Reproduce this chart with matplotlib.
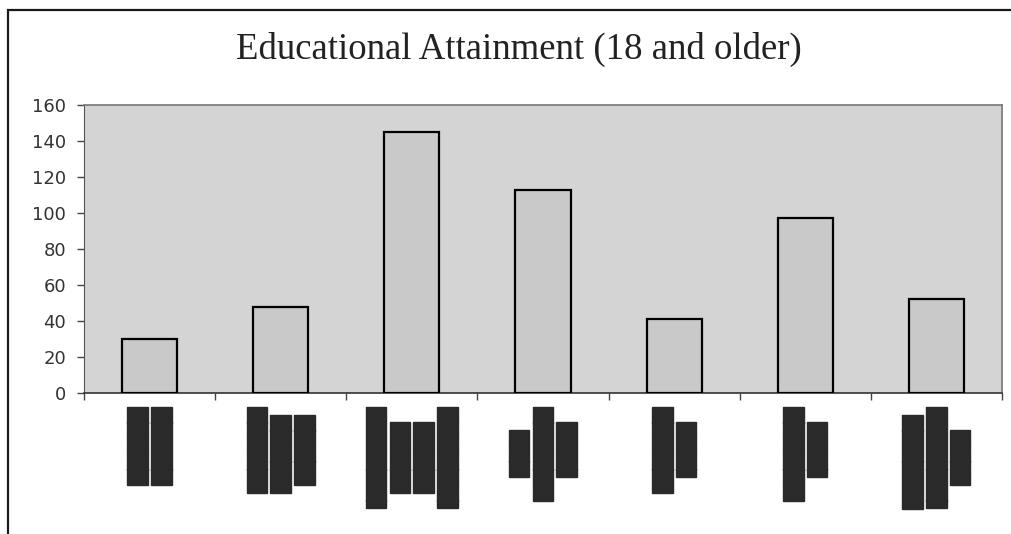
import matplotlib
matplotlib.use("Agg")
import matplotlib.pyplot as plt
from matplotlib.patches import Rectangle
import matplotlib.patheffects as pe
import numpy as np

# ---- data ----
title = "Educational Attainment (18 and older)"
values = [30, 48, 145, 113, 41, 97, 52]
# category labels are redacted in the reference; each column of a label is a
# line of block glyphs (length in half-glyph units)
label_columns = [
    [10, 10],
    [11, 10, 9],
    [13, 9, 9, 13],
    [6, 12, 7],
    [11, 7],
    [12, 7],
    [12, 13, 7],
]
yticks = [0, 20, 40, 60, 80, 100, 120, 140, 160]


def redacted(cols):
    lines = []
    for n in cols:
        lines.append(("\u2590" if n % 2 else "") + "\u2588" * (n // 2))
    return "\n".join(lines)


categories = [redacted(c) for c in label_columns]

fig = plt.figure(figsize=(10.11, 5.34), dpi=100)
fig.patch.set_facecolor("white")

# outer chart frame (extends past right/bottom edges as in the scan)
fig.patches.append(Rectangle((8 / 1011, -0.1), 1.2, 1 - 10 / 534 + 0.1,
                             transform=fig.transFigure, fill=False,
                             edgecolor="#1a1a1a", linewidth=1.6))

ax = fig.add_axes([84 / 1011, 1 - 393 / 534, (1002 - 84) / 1011, (393 - 105) / 534])
ax.set_facecolor("#d4d4d4")

x = np.arange(len(values))
ax.bar(x, values, width=0.42, color="#c9c9c9", edgecolor="black", linewidth=1.6, zorder=3)

ax.set_xlim(-0.5, len(values) - 0.5)
ax.set_ylim(0, 160)
ax.set_yticks(yticks)
ax.set_yticklabels([str(v) for v in yticks], fontsize=13, color="#333333",
                   family="DejaVu Sans")
ax.tick_params(axis="y", direction="out", length=5, width=1, color="#444444", pad=8)

ax.set_xticks(x)
ax.set_xticklabels(categories, rotation=90, fontsize=14.6, color="#2a2a2a",
                   family="DejaVu Sans", linespacing=1.22)
for t in ax.get_xticklabels():
    t.set_multialignment("center")
    t.set_va("top")
    t.set_ha("center")
    t.set_path_effects([pe.withStroke(linewidth=1.0, foreground="#2a2a2a",
                                      joinstyle="miter", capstyle="projecting")])
ax.tick_params(axis="x", which="major", length=0, pad=10)
ax.set_xticks(np.arange(len(values) + 1) - 0.5, minor=True)
ax.tick_params(axis="x", which="minor", direction="out", length=5, width=1, color="#444444")

for s in ["top", "right"]:
    ax.spines[s].set_color("#777777")
    ax.spines[s].set_linewidth(1.2)
    ax.spines[s].set_linestyle((0, (1, 1)))
ax.spines["left"].set_color("#555555")
ax.spines["bottom"].set_color("#333333")
ax.spines["bottom"].set_linewidth(1.2)

fig.text(519 / 1011, 1 - 59 / 534, title, ha="center", va="baseline",
         fontsize=26.5, family="Liberation Serif", color="#222222")

fig.savefig("out.png", dpi=100)
